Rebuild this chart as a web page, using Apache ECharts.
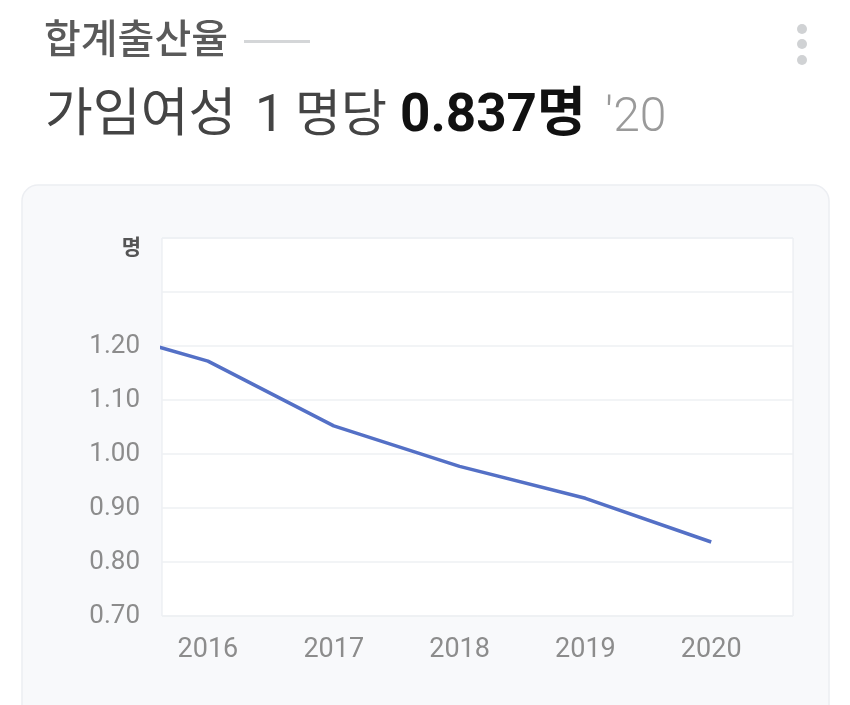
<!DOCTYPE html>
<html><head><meta charset="utf-8">
<script src="https://cdn.jsdelivr.net/npm/echarts@6/dist/echarts.min.js"></script>
<style>html,body{margin:0;padding:0;background:#fff}#c{width:850px;height:705px}</style>
</head><body><div id="c"></div>
<script>
const years = [2015, 2016, 2017, 2018, 2019, 2020];
const tfr = [1.239, 1.172, 1.052, 0.977, 0.918, 0.837];
const xTicks = [2016, 2017, 2018, 2019, 2020];
const yTicks = [0.70, 0.80, 0.90, 1.00, 1.10, 1.20];
const titleText = '합계출산율';
const headWord1 = '가임여성';
const headNum = '1';
const headWord2 = '명당';
const headValue = '0.837명';
const headYear = "'20";
const unitText = '명';

const FF = "Roboto, 'Noto Sans CJK KR', sans-serif";
const chart = echarts.init(document.getElementById('c'));
chart.setOption({
  backgroundColor: '#ffffff',
  animation: false,
  graphic: [
    { type: 'rect', z: -10, shape: { x: 22, y: 185, width: 807, height: 560, r: 16 },
      style: { fill: '#f8f9fb', stroke: '#eceef2', lineWidth: 1.5 } },
    { type: 'text', x: 44, y: 43, style: { text: titleText, font: "500 40px " + FF, fill: '#5a5a5a', verticalAlign: 'middle' } },
    { type: 'rect', shape: { x: 244, y: 40, width: 66, height: 3 }, style: { fill: '#d4d6d8' } },
    { type: 'circle', shape: { cx: 802, cy: 29, r: 5 }, style: { fill: '#d0d2d4' } },
    { type: 'circle', shape: { cx: 802, cy: 44, r: 5 }, style: { fill: '#d0d2d4' } },
    { type: 'circle', shape: { cx: 802, cy: 60, r: 5 }, style: { fill: '#d0d2d4' } },
    { type: 'text', x: 45, y: 118, style: { text: headWord1, font: "400 52px " + FF, fill: '#444444', verticalAlign: 'middle' } },
    { type: 'text', x: 255, y: 118, style: { text: headNum, font: "400 52px " + FF, fill: '#444444', verticalAlign: 'middle' } },
    { type: 'text', x: 295, y: 118, style: { text: headWord2, font: "400 50px " + FF, fill: '#444444', verticalAlign: 'middle' } },
    { type: 'text', x: 400, y: 118, style: { text: headValue, font: "700 53px " + FF, fill: '#111111', verticalAlign: 'middle' } },
    { type: 'text', x: 605, y: 119, style: { text: headYear, font: "300 48px " + FF, fill: '#9a9a9a', verticalAlign: 'middle' } },
    { type: 'text', x: 141, y: 249, style: { text: unitText, font: "700 21px " + FF, fill: '#555555', align: 'right', verticalAlign: 'middle' } }
  ],
  grid: { left: 162, right: 57, top: 238, bottom: 89, show: true, backgroundColor: '#ffffff', borderColor: '#e6e9ee', borderWidth: 1 },
  xAxis: {
    type: 'value', min: 2015.635, max: 2020.65,
    axisLine: { show: false }, axisTick: { show: false }, splitLine: { show: false },
    axisLabel: { customValues: xTicks, color: '#8c8c8c', fontSize: 27, fontFamily: FF, margin: 21, formatter: v => String(v) }
  },
  yAxis: {
    type: 'value', min: 0.7, max: 1.4, interval: 0.1,
    axisLine: { show: false }, axisTick: { show: false },
    splitLine: { lineStyle: { color: '#eef0f3', width: 1.5 } },
    axisLabel: { color: '#8c8c8c', fontSize: 26, fontFamily: FF, margin: 22,
      formatter: v => (yTicks.some(t => Math.abs(t - v) < 1e-6) ? v.toFixed(2) : '') }
  },
  series: [{
    type: 'line', data: years.map((y, i) => [y, tfr[i]]), showSymbol: false, clip: true,
    lineStyle: { color: '#5470c6', width: 3.5 }, itemStyle: { color: '#5470c6' }
  }]
});
</script></body></html>
